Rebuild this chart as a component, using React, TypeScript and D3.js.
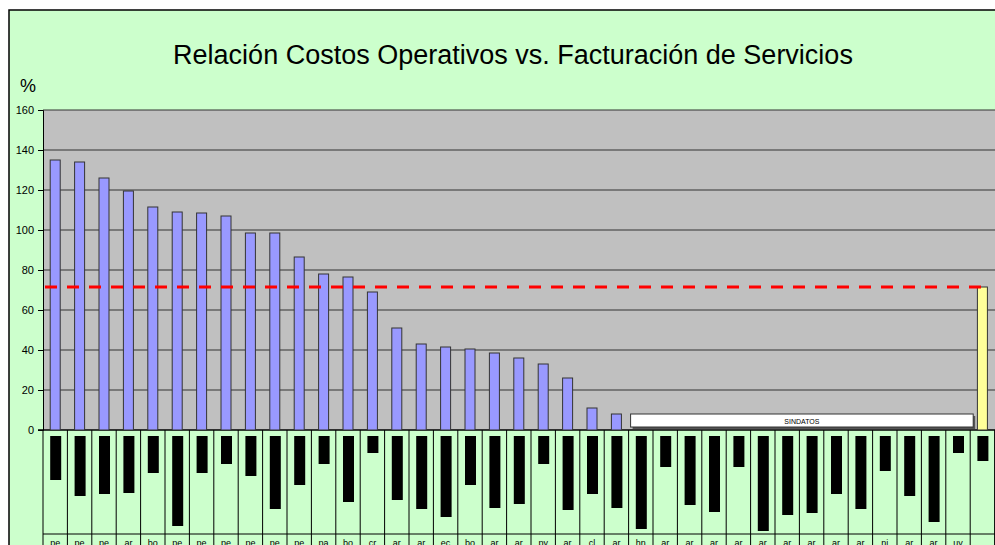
import React from 'react';
import * as d3 from 'd3';

// country codes shown under each column
const categories = [
  'pe', 'pe', 'pe', 'ar', 'bo', 'pe', 'pe', 'pe', 'pe', 'pe', 'pe', 'pa', 'bo',
  'cr', 'ar', 'ar', 'ec', 'bo', 'ar', 'ar', 'py', 'ar', 'cl', 'ar', 'hn',
  'ar', 'ar', 'ar', 'ar', 'ar', 'ar', 'ar', 'ar', 'ar', 'ni', 'ar', 'ar', 'uy', ''
];

// relation costs / billing in % (null = sin datos)
const ratio: (number | null)[] = [
  135, 134, 126, 119.5, 111.5, 109, 108.5, 107, 98.5, 98.5, 86.5, 78, 76.5,
  69, 51, 43, 41.5, 40.5, 38.5, 36, 33, 26, 11, 8, null,
  null, null, null, null, null, null, null, null, null, null, null, null, null, 71.5
];

// average value (red dashed line, yellow bar)
const average = 71.5;

// depth of the black marks in the table row under each column
const markDepth = [
  44, 60, 58, 57, 37, 90, 37, 28, 40, 73, 49, 28, 66,
  17, 64, 73, 81, 49, 72, 68, 28, 74, 58, 72, 93,
  31, 69, 76, 31, 95, 79, 77, 58, 73, 35, 60, 86, 17, 25
];

const yTicks = [0, 20, 40, 60, 80, 100, 120, 140, 160];

export default function App() {
  const svgRef = React.useRef<SVGSVGElement>(null);
  const width = 995;
  const height = 545;

  React.useEffect(() => {
    const svg = d3.select(svgRef.current);
    svg.selectAll('*').remove();

    const font = 'Arial, "Liberation Sans", sans-serif';
    const n = categories.length;
    const idx = d3.range(n);

    const x = d3.scaleBand<number>().domain(idx).range([43, 43 + n * 24.4]).padding(0);
    const y = d3.scaleLinear().domain([0, 160]).range([430, 110]);
    const depth = d3.scaleLinear().domain([0, 100]).range([0, 100]);

    // chart background
    svg.append('rect')
      .attr('x', 9).attr('y', 10).attr('width', 1000).attr('height', 560)
      .attr('fill', '#CCFFCC').attr('stroke', '#000').attr('stroke-width', 1.5);

    // title
    svg.append('text')
      .attr('x', 513).attr('y', 64)
      .attr('text-anchor', 'middle')
      .attr('font-family', font).attr('font-size', 27)
      .text('Relación Costos Operativos vs. Facturación de Servicios');

    svg.append('text')
      .attr('x', 20).attr('y', 92)
      .attr('font-family', font).attr('font-size', 18)
      .text('%');

    // plot area
    svg.append('rect')
      .attr('x', 43).attr('y', y(160)).attr('width', 960).attr('height', y(0) - y(160))
      .attr('fill', '#C0C0C0');

    svg.append('g').selectAll('line')
      .data(yTicks.filter((t) => t > 0))
      .join('line')
      .attr('x1', 43).attr('x2', 995)
      .attr('y1', (d) => y(d)).attr('y2', (d) => y(d))
      .attr('stroke', '#333').attr('stroke-width', 1);

    const yAxis = d3.axisLeft(y).tickValues(yTicks).tickSize(5).tickPadding(4);
    const yAxisGroup = svg.append('g').attr('transform', 'translate(43,0)').call(yAxis);
    yAxisGroup.select('.domain').attr('stroke', '#000');
    yAxisGroup.selectAll('line').attr('stroke', '#000');
    yAxisGroup.selectAll('text')
      .attr('font-family', font).attr('font-size', 11).attr('fill', '#000');

    // table row under the zero line
    svg.append('g').selectAll('line')
      .data(d3.range(n + 1))
      .join('line')
      .attr('x1', (d) => 43 + d * x.step()).attr('x2', (d) => 43 + d * x.step())
      .attr('y1', y(0)).attr('y2', height)
      .attr('stroke', '#000').attr('stroke-width', 1);

    svg.append('line')
      .attr('x1', 43).attr('x2', 995).attr('y1', 534).attr('y2', 534)
      .attr('stroke', '#000');

    svg.append('g').selectAll('rect')
      .data(markDepth)
      .join('rect')
      .attr('x', (d, i) => x(i)! + x.bandwidth() / 2 - 5)
      .attr('y', 436)
      .attr('width', 11)
      .attr('height', (d) => depth(d))
      .attr('fill', '#000');

    svg.append('g').selectAll('text')
      .data(categories)
      .join('text')
      .attr('x', (d, i) => x(i)! + x.bandwidth() / 2)
      .attr('y', 546)
      .attr('text-anchor', 'middle')
      .attr('font-family', font).attr('font-size', 9)
      .text((d) => d);

    // zero line
    svg.append('line')
      .attr('x1', 38).attr('x2', 995).attr('y1', y(0)).attr('y2', y(0))
      .attr('stroke', '#000').attr('stroke-width', 1.5);

    // bars
    const bars = ratio.map((v, i) => ({ v, i })).filter((d) => d.v !== null);
    svg.append('g').selectAll('rect')
      .data(bars)
      .join('rect')
      .attr('x', (d) => x(d.i)! + x.bandwidth() / 2 - 5)
      .attr('y', (d) => y(d.v as number))
      .attr('width', 10)
      .attr('height', (d) => y(0) - y(d.v as number))
      .attr('fill', (d) => (d.i === ratio.length - 1 ? '#FFFF99' : '#9999FF'))
      .attr('stroke', '#333').attr('stroke-width', 1);

    // sin datos box
    const first = ratio.findIndex((v) => v === null);
    const last = ratio.length - 2;
    const bx0 = x(first)! + 2;
    const bx1 = x(last)! + x.bandwidth() + 3;
    svg.append('rect')
      .attr('x', bx0 + 2).attr('y', 416).attr('width', bx1 - bx0).attr('height', 13)
      .attr('fill', '#555');
    svg.append('rect')
      .attr('x', bx0).attr('y', 414).attr('width', bx1 - bx0).attr('height', 13)
      .attr('fill', '#fff').attr('stroke', '#333').attr('stroke-width', 1);
    svg.append('text')
      .attr('x', (bx0 + bx1) / 2).attr('y', 423.5)
      .attr('text-anchor', 'middle')
      .attr('font-family', font).attr('font-size', 7)
      .text('SINDATOS');

    // average line
    svg.append('line')
      .attr('x1', 45).attr('x2', 988)
      .attr('y1', y(average)).attr('y2', y(average))
      .attr('stroke', '#FF0000').attr('stroke-width', 3)
      .attr('stroke-dasharray', '12 10');
  }, []);

  return (
    <svg ref={svgRef} width={width} height={height}
      style={{ position: 'absolute', left: 0, top: 0, display: 'block', background: '#fff' }} />
  );
}
